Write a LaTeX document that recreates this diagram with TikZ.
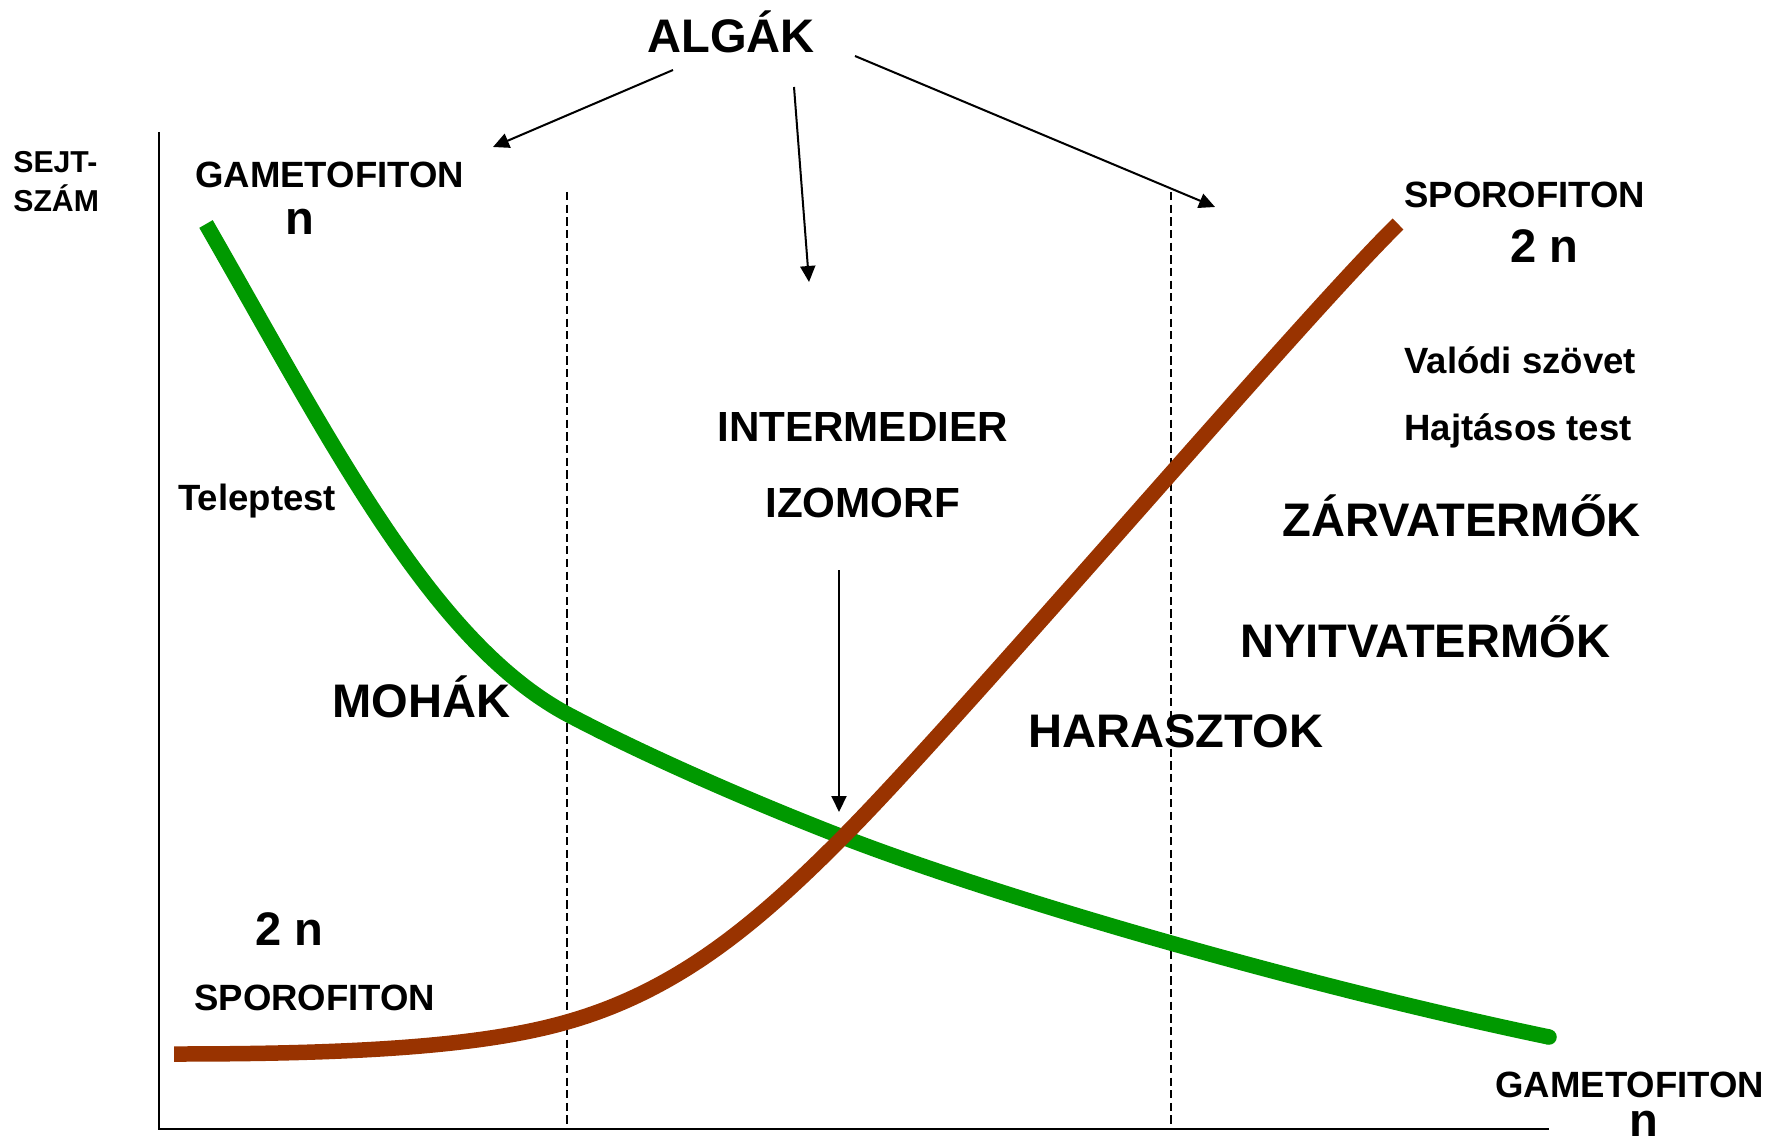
\documentclass[tikz,border=0pt]{standalone}
\usepackage{fontspec}
\setmainfont{Liberation Sans}
\usetikzlibrary{arrows.meta}
\definecolor{mygreen}{RGB}{0,153,0}
\definecolor{mybrown}{RGB}{153,51,0}
\begin{document}
\begin{tikzpicture}[x=0.02cm,y=-0.02cm,
 lbl/.style={inner sep=0pt, anchor=base west},
 fbig/.style={font=\fontsize{26.8pt}{30pt}\selectfont\bfseries},
 fmid/.style={font=\fontsize{24pt}{28pt}\selectfont\bfseries},
 fmed/.style={font=\fontsize{20.8pt}{24pt}\selectfont\bfseries},
 fsml/.style={font=\fontsize{17.2pt}{20pt}\selectfont\bfseries},
 arr/.style={line width=1.15pt, -{Triangle[length=0.32cm,width=0.3cm]}},
 axisline/.style={line width=1pt},
 divider/.style={line width=0.6pt, dash pattern=on 4.7pt off 2.5pt},
 curve/.style={line width=0.31cm},
]
\useasboundingbox (0,0) rectangle (1773,1145);

% axes
\coordinate (yaxtop) at (159,132);
\coordinate (origin) at (159,1129);
\coordinate (xaxend) at (1549,1129);
\draw[axisline] (yaxtop) -- (origin) -- (xaxend);

% dashed dividers
\coordinate (d1t) at (567,192);
\coordinate (d1b) at (567,1125);
\coordinate (d2t) at (1171,192);
\coordinate (d2b) at (1171,1125);
\draw[divider] (d1t) -- (d1b);
\draw[divider] (d2t) -- (d2b);

% green curve (gametofiton)
\draw[curve, mygreen] (206,224) .. controls (330,440) and (430,640) .. (567,714)
  .. controls (650,758) and (760,805) .. (840,836)
  .. controls (1000,898) and (1300,985) .. (1549,1037);
\fill[mygreen] (1549,1037) circle (0.155cm);

% brown curve (sporofiton)
\draw[curve, mybrown] (174,1054) .. controls (350,1054) and (480,1047) .. (567,1022)
  .. controls (680,990) and (760,920) .. (840,840)
  .. controls (960,720) and (1300,320) .. (1398,224);

% labels
\node[lbl,fbig] (algak) at (647,53) {ALGÁK};
\node[lbl,fsml] (sejt) at (13,173) {SEJT-};
\node[lbl,fsml] (szam) at (13,212) {SZÁM};
\node[lbl,fmed] (gamtop) at (195,188) {GAMETOFITON};
\node[lbl,fbig] (ntop) at (285,235) {n};
\node[lbl,fmed] (sportop) at (1404,208) {SPOROFITON};
\node[lbl,fbig] (twontop) at (1510,263) {2 n};
\node[lbl,fmed] (valodi) at (1404,373) {Valódi szövet};
\node[lbl,fmed] (hajtasos) at (1404,440) {Hajtásos test};
\node[lbl,fbig] (zarva) at (1282,536) {ZÁRVATERMŐK};
\node[lbl,fbig] (nyitva) at (1240,657) {NYITVATERMŐK};
\node[lbl,fbig] (haraszt) at (1028,747) {HARASZTOK};
\node[lbl,fmid] (inter) at (717,441) {INTERMEDIER};
\node[lbl,fmid] (izomorf) at (765,517) {IZOMORF};
\node[lbl,fmed] (telep) at (178,510) {Teleptest};
\node[lbl,fbig] (mohak) at (332,717) {MOHÁK};
\node[lbl,fbig] (twonbot) at (255,945) {2 n};
\node[lbl,fmed] (sporbot) at (194,1010) {SPOROFITON};
\node[lbl,fmed] (gambot) at (1495,1097) {GAMETOFITON};
\node[lbl,fbig] (nbot) at (1629,1136) {n};

% arrows
\coordinate (a1s) at (673,70);
\coordinate (a1e) at (493,147);
\coordinate (a2s) at (794,87);
\coordinate (a2e) at (809,282);
\coordinate (a3s) at (855,56);
\coordinate (a3e) at (1215,207);
\coordinate (a4s) at (839,570);
\coordinate (a4e) at (839,812);
\draw[arr] (a1s) -- (a1e);
\draw[arr] (a2s) -- (a2e);
\draw[arr] (a3s) -- (a3e);
\draw[arr] (a4s) -- (a4e);
\end{tikzpicture}
\end{document}
